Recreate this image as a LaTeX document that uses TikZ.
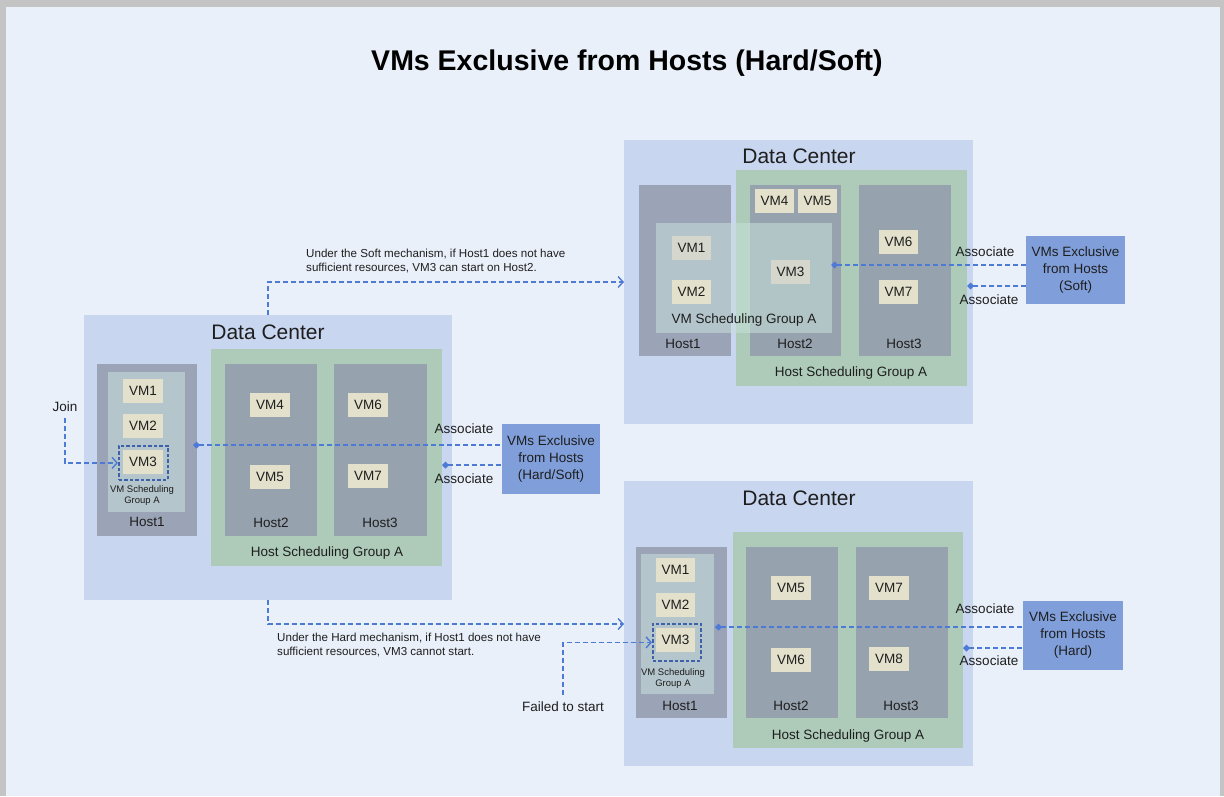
\documentclass[tikz,border=0pt]{standalone}
\usepackage{fontspec}
\setmainfont{Liberation Sans}
\usetikzlibrary{arrows.meta,positioning}

\definecolor{pagebg}{HTML}{EAF0FA}
\definecolor{frame}{HTML}{C4C4C4}
\definecolor{dcfill}{HTML}{C8D6F0}
\definecolor{grpfill}{HTML}{ADCBB8}
\definecolor{hostA}{HTML}{9BA4B7}
\definecolor{hostB}{HTML}{96A2AD}
\definecolor{vmsgfill}{HTML}{B4C5CB}
\definecolor{vmfill}{HTML}{E3E1CC}
\definecolor{vmdim}{HTML}{D6D7CC}
\definecolor{rulefill}{HTML}{809FDA}
\definecolor{link}{HTML}{4C7AD4}
\definecolor{ink}{HTML}{1E1E1E}

% rectangle node from its top-left and bottom-right corners (pixel units)
\newcommand{\rbox}[6]{\node[#1, minimum width={#4-#2}, minimum height={#5-#3}, anchor=north west] (#6) at (#2,#3) {};}

\begin{document}
\begin{tikzpicture}[x=1pt,y=-1pt,
  plain/.style={draw=none,inner sep=0pt,outer sep=0pt},
  dc/.style={plain,fill=dcfill},
  grp/.style={plain,fill=grpfill},
  hosta/.style={plain,fill=hostA},
  hostb/.style={plain,fill=hostB},
  vmsg/.style={plain,fill=vmsgfill},
  vmsgsoft/.style={plain,fill={rgb,255:red,200;green,224;blue,220},fill opacity=0.55},
  vm/.style={plain,fill=vmfill,minimum width=40,minimum height=24,text=ink,font=\fontsize{13.5}{13.5}\selectfont},
  vmd/.style={vm,fill=vmdim},
  rule/.style={plain,fill=rulefill,text=ink,align=center,font=\fontsize{13.5}{17}\selectfont},
  lbl/.style={inner sep=0pt,text=ink,font=\fontsize{13.5}{13.5}\selectfont},
  dctitle/.style={inner sep=0pt,text=ink,font=\fontsize{21}{21}\selectfont},
  tiny/.style={inner sep=0pt,text=ink,align=center,font=\fontsize{9.5}{11}\selectfont},
  note/.style={inner sep=0pt,text=ink,align=left,font=\fontsize{11.6}{14}\selectfont},
  selbox/.style={draw=link!80!black,line width=1.8pt,dash pattern=on 3.5pt off 2pt,fill=none,inner sep=0pt},
  flow/.style={draw=link,line width=1.4pt,dash pattern=on 5pt off 3pt,-{Straight Barb[length=5pt,width=11pt]}},
  assoc/.style={draw=link,line width=1.4pt,dash pattern=on 5pt off 3pt,{Diamond[length=7pt,width=7pt,fill=link]}-},
]
% page with its grey frame
\fill[frame] (0,0) rectangle (1224,796);
\fill[pagebg] (6,7) rectangle (1220,796);
\useasboundingbox (0,0) rectangle (1224,796);

\node[inner sep=0pt,text=black,font=\bfseries\fontsize{28.5}{28.5}\selectfont] (title) at (627,63) {VMs Exclusive from Hosts (Hard/Soft)};

% ---------------- left data center ----------------
\rbox{dc}{84}{315}{452}{600}{dcL}
\node[dctitle] at (268,332) {Data Center};
\rbox{grp}{211}{349}{442}{566}{grpL}
\rbox{hosta}{97}{364}{197}{536}{hL1}
\rbox{vmsg}{108}{372}{185}{512}{sgL}
\rbox{hostb}{225}{364}{317}{536}{hL2}
\rbox{hostb}{334}{364}{427}{536}{hL3}
\node[vm] (L1) at (143,391) {VM1};
\node[vm] (L2) at (143,426) {VM2};
\node[vm] (L3) at (143,462) {VM3};
\rbox{selbox}{118}{445}{167}{479}{selL}
\node[tiny] at (142,496) {VM Scheduling\\Group A};
\node[lbl] at (147,522) {Host1};
\node[vm] (L4) at (270,405) {VM4};
\node[vm] (L5) at (270,477) {VM5};
\node[lbl] at (271,523) {Host2};
\node[vm] (L6) at (368,405) {VM6};
\node[vm] (L7) at (368,476) {VM7};
\node[lbl] at (380,523) {Host3};
\node[lbl] at (327,553) {Host Scheduling Group A};

\rbox{rule}{502}{424}{600}{494}{ruleL}
\node[rule] at (551,459) {VMs Exclusive\\from Hosts\\(Hard/Soft)};
\coordinate (aL1) at (193,445);
\coordinate (aL2) at (442,465);
\draw[assoc] (aL1) -- (ruleL.west |- aL1);
\draw[assoc] (aL2) -- (ruleL.west |- aL2);
\node[lbl] at (464,429) {Associate};
\node[lbl] at (464,479) {Associate};

\node[lbl] (join) at (65,407) {Join};
\draw[flow] ([yshift=-6pt]join.south) |- (selL.west);

% ---------------- top right data center (soft) ----------------
\rbox{dc}{624}{140}{973}{424}{dcT}
\node[dctitle] at (799,156) {Data Center};
\rbox{grp}{736}{170}{967}{386}{grpT}
\rbox{hosta}{639}{185}{731}{356}{hT1}
\rbox{hostb}{750}{185}{841}{356}{hT2}
\rbox{hostb}{859}{185}{951}{356}{hT3}
\node[vm,minimum width=39] (T4) at (774.5,201) {VM4};
\node[vm,minimum width=39] (T5) at (817.5,201) {VM5};
\rbox{vmsgsoft}{656}{223}{832}{333}{sgT}
\node[vmd,minimum width=39] (T1) at (691.5,248) {VM1};
\node[vmd,minimum width=39] (T3) at (790.5,271.5) {VM3};
\node[vm,minimum width=39] (T2) at (691.5,292) {VM2};
\node[vm,minimum width=39] (T6) at (898.5,242) {VM6};
\node[vm,minimum width=39] (T7) at (898.5,292) {VM7};
\node[lbl] at (744,320) {VM Scheduling Group A};
\node[lbl] at (683,344) {Host1};
\node[lbl] at (795,344) {Host2};
\node[lbl] at (904,344) {Host3};
\node[lbl] at (851,373) {Host Scheduling Group A};

\rbox{rule}{1026}{236}{1125}{304}{ruleT}
\node[rule] at (1075.5,270) {VMs Exclusive\\from Hosts\\(Soft)};
\coordinate (aT1) at (831,265);
\coordinate (aT2) at (967,286);
\draw[assoc] (aT1) -- (ruleT.west |- aT1);
\draw[assoc] (aT2) -- (ruleT.west |- aT2);
\node[lbl] at (985,252) {Associate};
\node[lbl] at (989,300) {Associate};

% ---------------- bottom right data center (hard) ----------------
\rbox{dc}{624}{481}{973}{766}{dcB}
\node[dctitle] at (799,498) {Data Center};
\rbox{grp}{733}{532}{963}{748}{grpB}
\rbox{hosta}{636}{547}{727}{718}{hB1}
\rbox{vmsg}{641}{554}{714}{694}{sgB}
\rbox{hostb}{746}{547}{838}{718}{hB2}
\rbox{hostb}{856}{547}{948}{718}{hB3}
\node[vm,minimum width=39] (B1) at (675.5,570) {VM1};
\node[vm,minimum width=39] (B2) at (675.5,605) {VM2};
\node[vm,minimum width=39] (B3) at (675.5,640) {VM3};
\rbox{selbox}{652}{623}{700}{660}{selB}
\node[tiny] at (673,678.5) {VM Scheduling\\Group A};
\node[lbl] at (680,706) {Host1};
\node[vm] (B5) at (791,588) {VM5};
\node[vm] (B6) at (791,660) {VM6};
\node[lbl] at (791,706) {Host2};
\node[vm] (B7) at (889,588) {VM7};
\node[vm] (B8) at (889,658.5) {VM8};
\node[lbl] at (901,706) {Host3};
\node[lbl] at (848,736) {Host Scheduling Group A};

\rbox{rule}{1023}{601}{1123}{670}{ruleB}
\node[rule] at (1073,635) {VMs Exclusive\\from Hosts\\(Hard)};
\coordinate (aB1) at (715,627);
\coordinate (aB2) at (963,648);
\draw[assoc] (aB1) -- (ruleB.west |- aB1);
\draw[assoc] (aB2) -- (ruleB.west |- aB2);
\node[lbl] at (985,609) {Associate};
\node[lbl] at (989,661) {Associate};

% ---------------- outcome paths ----------------
\coordinate (softIn) at (624,282);
\coordinate (hardIn) at (624,624);
\draw[flow] (dcL.north) |- (softIn);
\draw[flow] (dcL.south) |- (hardIn);
\node[note,anchor=north west] at (306,249) {Under the Soft mechanism, if Host1 does not have\\sufficient resources, VM3 can start on Host2.};
\node[note,anchor=north west] at (277,633) {Under the Hard mechanism, if Host1 does not have\\sufficient resources, VM3 cannot start.};

\node[lbl] (fail) at (563,707) {Failed to start};
\draw[flow] ([yshift=7pt]fail.north) |- (selB.west);
\end{tikzpicture}
\end{document}
